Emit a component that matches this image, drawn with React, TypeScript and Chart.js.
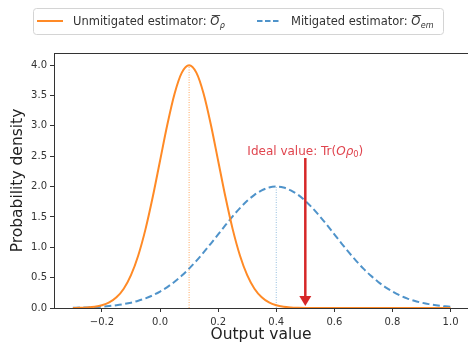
import React, { useEffect, useRef } from 'react';
import { Chart, registerables } from 'chart.js';

Chart.register(...registerables);

// ---- data ----
const outputValues = [
  -0.3, -0.275, -0.25, -0.225, -0.2, -0.175, -0.15, -0.125, -0.1, -0.075, -0.05, -0.025,
  0, 0.025, 0.05, 0.075, 0.1, 0.125, 0.15, 0.175, 0.2, 0.225, 0.25, 0.275, 0.3, 0.325,
  0.35, 0.375, 0.4, 0.425, 0.45, 0.475, 0.5, 0.525, 0.55, 0.575, 0.6, 0.625, 0.65, 0.675,
  0.7, 0.725, 0.75, 0.775, 0.8, 0.825, 0.85, 0.875, 0.9, 0.925, 0.95, 0.975, 1.0,
];

const unmitigatedDensity = [
  0.001, 0.004, 0.009, 0.02, 0.044, 0.091, 0.176, 0.318, 0.541, 0.865, 1.299, 1.831,
  2.426, 3.019, 3.53, 3.877, 4.0, 3.877, 3.53, 3.019, 2.426, 1.831, 1.299, 0.865, 0.541, 0.318,
  0.176, 0.091, 0.044, 0.02, 0.009, 0.004, 0.001, 0, 0, 0, 0, 0, 0, 0,
  0, 0, 0, 0, 0, 0, 0, 0, 0, 0, 0, 0, 0,
];

const mitigatedDensity = [
  0.004, 0.007, 0.01, 0.015, 0.022, 0.032, 0.046, 0.064, 0.088, 0.119, 0.159, 0.209,
  0.271, 0.345, 0.433, 0.534, 0.649, 0.777, 0.916, 1.062, 1.213, 1.364, 1.51, 1.645, 1.765, 1.864,
  1.938, 1.984, 2.0, 1.984, 1.938, 1.864, 1.765, 1.645, 1.51, 1.364, 1.213, 1.062, 0.916, 0.777,
  0.649, 0.534, 0.433, 0.345, 0.271, 0.209, 0.159, 0.119, 0.088, 0.064, 0.046, 0.032, 0.022,
];

const unmitigatedMean = [0.1, 0.1];
const unmitigatedMeanLine = [0, 4.0];
const mitigatedMean = [0.4, 0.4];
const mitigatedMeanLine = [0, 2.0];

const idealValue = 0.5;
const idealLabelY = 2.6;
const idealArrowStartY = 2.47;

const xTickValues = [-0.2, 0.0, 0.2, 0.4, 0.6, 0.8, 1.0];
const yTickValues = [0, 0.5, 1.0, 1.5, 2.0, 2.5, 3.0, 3.5, 4.0];

// ---- styles ----
const FONT = '"DejaVu Sans", sans-serif';
const ORANGE = '#ff8a26';
const BLUE = '#4f93ca';
const RED = '#d62728';
const AXIS = '#333333';

function drawMathLabel(
  ctx: CanvasRenderingContext2D,
  x: number,
  baseline: number,
  prefix: string,
  sub: string,
  size: number,
) {
  ctx.font = `${size}px ${FONT}`;
  ctx.fillText(prefix, x, baseline);
  let cx = x + ctx.measureText(prefix).width;
  ctx.font = `italic ${size}px ${FONT}`;
  ctx.fillText('O', cx, baseline);
  const ow = ctx.measureText('O').width;
  ctx.beginPath();
  ctx.lineWidth = 0.9;
  const oy = Math.round(baseline - size * 0.9) + 0.5;
  ctx.moveTo(cx + 1.5, oy);
  ctx.lineTo(cx + ow + 0.8, oy);
  ctx.stroke();
  cx += ow + 0.3;
  ctx.font = `italic ${size * 0.7}px ${FONT}`;
  ctx.fillText(sub, cx, baseline + size * 0.22);
}

const decorPlugin = {
  id: 'decor',
  afterDatasetsDraw(chart: any) {
    const { ctx, chartArea, scales } = chart;
    const xs = scales.x;
    const ys = scales.y;
    ctx.save();
    // top spine
    ctx.strokeStyle = AXIS;
    ctx.lineWidth = 1;
    ctx.beginPath();
    ctx.moveTo(chartArea.left, chartArea.top + 0.5);
    ctx.lineTo(chartArea.right, chartArea.top + 0.5);
    ctx.stroke();

    // arrow
    const ax = xs.getPixelForValue(idealValue);
    const ay0 = ys.getPixelForValue(idealArrowStartY);
    const tip = ys.getPixelForValue(0) - 2;
    const headLen = 10;
    const headW = 12;
    ctx.strokeStyle = RED;
    ctx.fillStyle = RED;
    ctx.lineWidth = 2.5;
    ctx.beginPath();
    ctx.moveTo(ax, ay0);
    ctx.lineTo(ax, tip - headLen + 1);
    ctx.stroke();
    ctx.beginPath();
    ctx.moveTo(ax - headW / 2, tip - headLen);
    ctx.lineTo(ax + headW / 2, tip - headLen);
    ctx.lineTo(ax, tip);
    ctx.closePath();
    ctx.fill();

    // annotation text
    const size = 12;
    const parts = [
      { t: 'Ideal value: Tr(', f: `${size}px ${FONT}`, dy: 0 },
      { t: 'O', f: `italic ${size}px ${FONT}`, dy: 0 },
      { t: 'ρ', f: `italic ${size}px ${FONT}`, dy: 0 },
      { t: '0', f: `${size * 0.7}px ${FONT}`, dy: 2.5 },
      { t: ')', f: `${size}px ${FONT}`, dy: 0 },
    ];
    let total = 0;
    for (const p of parts) {
      ctx.font = p.f;
      total += ctx.measureText(p.t).width;
    }
    let cx = ax - total / 2;
    const base = ys.getPixelForValue(idealLabelY) + 4.5;
    ctx.fillStyle = '#e0454f';
    ctx.textBaseline = 'alphabetic';
    ctx.textAlign = 'left';
    for (const p of parts) {
      ctx.font = p.f;
      ctx.fillText(p.t, cx, base + p.dy);
      cx += ctx.measureText(p.t).width;
    }

    // legend box
    const bx = 33.5, by = 8.5, bw = 410, bh = 26, r = 3;
    ctx.beginPath();
    ctx.moveTo(bx + r, by);
    ctx.lineTo(bx + bw - r, by);
    ctx.arcTo(bx + bw, by, bx + bw, by + r, r);
    ctx.lineTo(bx + bw, by + bh - r);
    ctx.arcTo(bx + bw, by + bh, bx + bw - r, by + bh, r);
    ctx.lineTo(bx + r, by + bh);
    ctx.arcTo(bx, by + bh, bx, by + bh - r, r);
    ctx.lineTo(bx, by + r);
    ctx.arcTo(bx, by, bx + r, by, r);
    ctx.closePath();
    ctx.fillStyle = '#ffffff';
    ctx.fill();
    ctx.strokeStyle = '#d4d4d4';
    ctx.lineWidth = 1;
    ctx.stroke();

    // legend samples
    ctx.lineWidth = 2;
    ctx.strokeStyle = ORANGE;
    ctx.beginPath();
    ctx.moveTo(37, 21);
    ctx.lineTo(63, 21);
    ctx.stroke();
    ctx.strokeStyle = BLUE;
    ctx.setLineDash([5.5, 2.5]);
    ctx.beginPath();
    ctx.moveTo(257, 21);
    ctx.lineTo(279, 21);
    ctx.stroke();
    ctx.setLineDash([]);

    ctx.fillStyle = '#333333';
    ctx.strokeStyle = '#333333';
    drawMathLabel(ctx, 73, 25, 'Unmitigated estimator: ', 'ρ', 11.5);
    ctx.fillStyle = '#333333';
    drawMathLabel(ctx, 291, 25, 'Mitigated estimator: ', 'em', 11.5);
    ctx.restore();
  },
};

export default function App() {
  const canvasRef = useRef<HTMLCanvasElement | null>(null);

  useEffect(() => {
    const canvas = canvasRef.current;
    if (!canvas) return;
    const toPoints = (xs: number[], ys: number[]) => xs.map((x, i) => ({ x, y: ys[i] }));
    const fmt = (v: any) => Number(v).toFixed(1).replace('-', '\u2212');

    const chart = new Chart(canvas, {
      type: 'line',
      data: {
        datasets: [
          {
            label: 'unmitigated',
            data: toPoints(outputValues, unmitigatedDensity),
            borderColor: ORANGE,
            borderWidth: 2,
            pointRadius: 0,
            cubicInterpolationMode: 'monotone',
            fill: false,
          },
          {
            label: 'mitigated',
            data: toPoints(outputValues, mitigatedDensity),
            borderColor: BLUE,
            borderWidth: 2,
            borderDash: [7, 3.5],
            pointRadius: 0,
            cubicInterpolationMode: 'monotone',
            fill: false,
          },
          {
            label: 'unmitigated mean',
            data: toPoints(unmitigatedMean, unmitigatedMeanLine),
            borderColor: 'rgba(255,138,38,0.75)',
            borderWidth: 1,
            borderDash: [1, 1.5],
            pointRadius: 0,
            fill: false,
          },
          {
            label: 'mitigated mean',
            data: toPoints(mitigatedMean, mitigatedMeanLine),
            borderColor: 'rgba(79,147,202,0.6)',
            borderWidth: 1,
            borderDash: [1, 1.5],
            pointRadius: 0,
            fill: false,
          },
        ],
      },
      options: {
        animation: false,
        responsive: false,
        maintainAspectRatio: false,
        devicePixelRatio: 1,
        layout: { padding: { top: 53, left: 0, right: 0, bottom: 0 } },
        plugins: {
          legend: { display: false },
          tooltip: { enabled: false },
        },
        scales: {
          x: {
            type: 'linear',
            min: -0.365,
            max: 1.06,
            afterBuildTicks: (axis: any) => {
              axis.ticks = xTickValues.map((v) => ({ value: v }));
            },
            afterFit: (axis: any) => {
              axis.height = 36;
            },
            ticks: {
              callback: fmt,
              font: { family: FONT, size: 10 },
              color: AXIS,
              padding: 4,
              maxRotation: 0,
              autoSkip: false,
            },
            grid: {
              drawOnChartArea: false,
              drawTicks: true,
              tickLength: 4,
              tickColor: AXIS,
            },
            border: { display: true, color: AXIS, width: 1 },
            title: {
              display: true,
              text: 'Output value',
              font: { family: FONT, size: 15.5 },
              color: '#222222',
              padding: { top: 0, bottom: 0 },
            },
          },
          y: {
            type: 'linear',
            min: 0,
            max: 4.2,
            afterBuildTicks: (axis: any) => {
              axis.ticks = yTickValues.map((v) => ({ value: v }));
            },
            afterFit: (axis: any) => {
              axis.width = 54;
            },
            ticks: {
              callback: fmt,
              font: { family: FONT, size: 10 },
              color: AXIS,
              padding: 3,
              autoSkip: false,
            },
            grid: {
              drawOnChartArea: false,
              drawTicks: true,
              tickLength: 4,
              tickColor: AXIS,
            },
            border: { display: true, color: AXIS, width: 1 },
            title: {
              display: true,
              text: 'Probability density',
              font: { family: FONT, size: 15.5 },
              color: '#222222',
              padding: { top: 9, bottom: 0 },
            },
          },
        },
      } as any,
      plugins: [decorPlugin],
    });

    return () => {
      chart.destroy();
    };
  }, []);

  return (
    <div style={{ position: 'absolute', left: 0, top: 0, width: 468, height: 344, background: '#ffffff' }}>
      <canvas ref={canvasRef} width={468} height={344} style={{ display: 'block' }} />
    </div>
  );
}
